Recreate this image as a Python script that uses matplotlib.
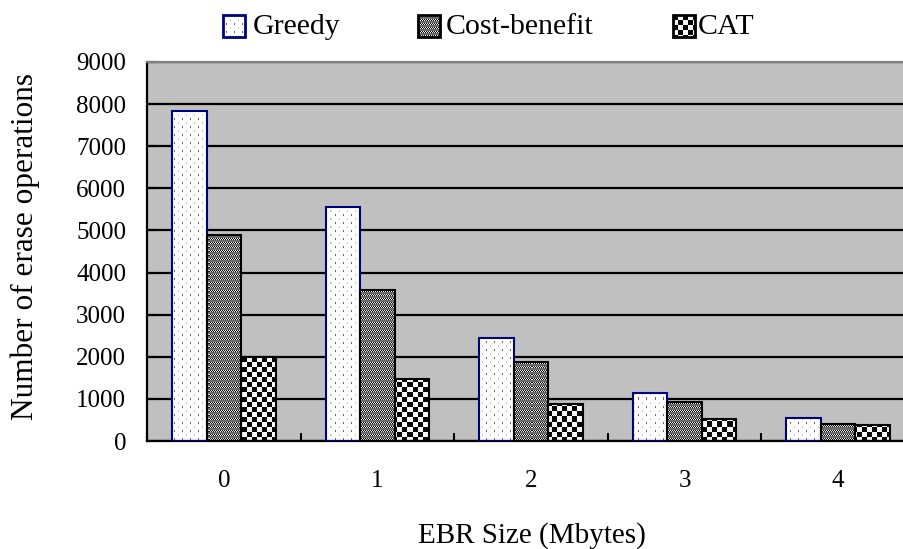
import numpy as np
import matplotlib
matplotlib.use("Agg")
import matplotlib.pyplot as plt
from matplotlib.patches import Rectangle

plt.rcParams['font.family'] = ['Liberation Serif', 'DejaVu Serif']

# ---- data ----
categories = ["0", "1", "2", "3", "4"]
series_names = ["Greedy", "Cost-benefit", "CAT"]
greedy = [7830, 5550, 2450, 1150, 540]
cost_benefit = [4890, 3580, 1870, 920, 410]
cat = [1990, 1465, 880, 530, 370]
y_ticks = [0, 1000, 2000, 3000, 4000, 5000, 6000, 7000, 8000, 9000]
x_label = "EBR Size (Mbytes)"
y_label = "Number of erase operations"

# ---- figure / axes geometry (pixels) ----
W_PX, H_PX, DPI = 904, 549, 100
AX_L, AX_R, AX_T, AX_B = 147, 915, 62, 441

fig = plt.figure(figsize=(W_PX / DPI, H_PX / DPI), dpi=DPI)
fig.patch.set_facecolor('white')
ax = fig.add_axes([AX_L / W_PX, (H_PX - AX_B) / H_PX,
                   (AX_R - AX_L) / W_PX, (AX_B - AX_T) / H_PX])
ax.set_facecolor('#c0c0c0')


# ---- pixel fill patterns ----
def dots(h, w):
    yy, xx = np.mgrid[0:h, 0:w]
    a = np.ones((h, w, 3))
    a[((xx % 8) == 3) & ((yy % 8) < 2)] = 0.42
    a[((xx % 8) == 7) & ((yy % 8) >= 4) & ((yy % 8) < 6)] = 0.80
    return a


def stripes(h, w):
    yy, xx = np.mgrid[0:h, 0:w]
    g = np.full((h, w), 0.42)
    band = (yy % 4) < 2
    dither = np.where((xx + yy) % 2 == 0, 0.05, 0.92)
    g[band] = dither[band]
    return np.dstack([g, g, g])


def checker(h, w):
    yy, xx = np.mgrid[0:h, 0:w]
    g = ((xx // 5 + yy // 5) % 2).astype(float)
    g = 0.02 + 0.96 * g
    return np.dstack([g, g, g])


pattern_funcs = [dots, stripes, checker]
edge_colors = ['#000080', 'black', 'black']
series_values = [greedy, cost_benefit, cat]

aw, ah = AX_R - AX_L, AX_B - AX_T
x = np.arange(len(categories))
xlim = (-0.5, len(categories) - 0.5)
ylim = (y_ticks[0], y_ticks[-1])
bw = 0.225

for i, (vals, pf, ec) in enumerate(zip(series_values, pattern_funcs, edge_colors)):
    pat = pf(ah, aw)
    bars = ax.bar(x + (i - 1) * bw, vals, bw, facecolor='none',
                  edgecolor=ec, linewidth=1.5, zorder=3)
    for b in bars:
        im = ax.imshow(pat, extent=[xlim[0], xlim[1], ylim[0], ylim[1]],
                       origin='upper', interpolation='nearest',
                       aspect='auto', zorder=2)
        im.set_clip_path(b)

ax.set_xlim(*xlim)
ax.set_ylim(*ylim)

# ---- grid, spines, ticks ----
ax.set_axisbelow(True)
ax.yaxis.grid(True, color='black', linewidth=1.6)
ax.xaxis.grid(False)
for side in ('left', 'bottom'):
    ax.spines[side].set_color('black')
    ax.spines[side].set_linewidth(1.6)
ax.spines['top'].set_color('#808080')
ax.spines['top'].set_linewidth(1.6)
ax.spines['right'].set_visible(False)

ax.set_yticks(y_ticks)
ax.set_yticklabels([str(v) for v in y_ticks])
ax.tick_params(axis='y', direction='in', length=6.5, width=1.5,
               pad=15, labelsize=18, colors='black')

ax.set_xticks(np.arange(-0.5, len(categories) + 0.5, 1))
ax.set_xticklabels([])
ax.tick_params(axis='x', which='major', direction='in', length=6, width=1.5)
ax.set_xticks(x, minor=True)
ax.set_xticklabels(categories, minor=True)
ax.tick_params(axis='x', which='minor', length=0, pad=21, labelsize=18)

# ---- axis titles ----
fig.text(532 / W_PX, 1 - 536 / H_PX, x_label, ha='center', va='center',
         fontsize=21)
fig.text(25 / W_PX, 1 - 246 / H_PX, y_label, ha='center', va='center',
         rotation=90, fontsize=22.5)

# ---- legend ----
sw_x = [223, 418, 673]
tx_x = [253, 446, 698]
sw_w, sw_h, sw_top = 22, 22, 15
for name, pf, ec, sx, tx in zip(series_names, pattern_funcs, edge_colors, sw_x, tx_x):
    fig.figimage(pf(sw_h, sw_w), xo=sx, yo=H_PX - sw_top - sw_h,
                 origin='upper', zorder=1)
    fig.patches.append(Rectangle((sx / W_PX, (H_PX - sw_top - sw_h) / H_PX),
                                 sw_w / W_PX, sw_h / H_PX,
                                 transform=fig.transFigure, fill=False,
                                 edgecolor=ec, linewidth=2.0, zorder=2))
    fig.text(tx / W_PX, 1 - 27 / H_PX, name, ha='left', va='center',
             fontsize=21.5)

fig.savefig('out.png', dpi=DPI, facecolor='white')
